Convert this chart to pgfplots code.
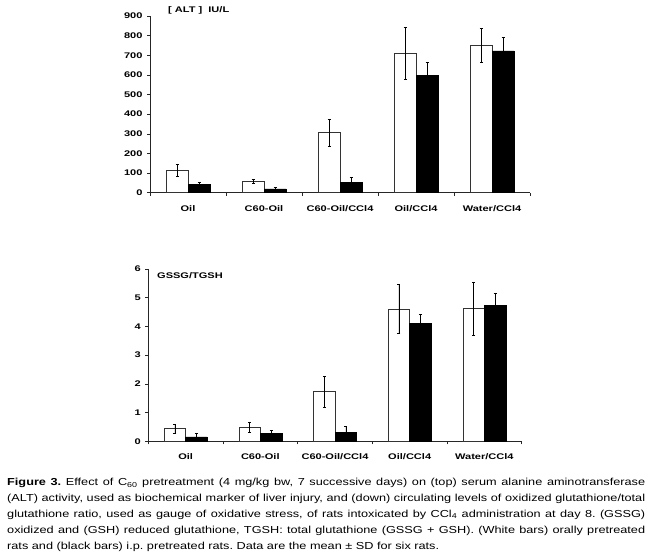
\documentclass[border=0pt]{standalone}
\usepackage{pgfplots}
\pgfplotsset{compat=1.18}
\usepackage{fontspec}
\setmainfont{Liberation Sans}
\newfontfamily\lab[FakeStretch=1.35]{Liberation Sans}
\newfontfamily\capfont[FakeStretch=1.25]{Liberation Sans}
\frenchspacing
\begin{document}
\begin{tikzpicture}
\useasboundingbox (0,0) rectangle (650bp,558bp);
\pgfplotsset{
  common/.style={
    scale only axis, ybar, ymin=0, xmin=-0.5, xmax=4.5,
    axis x line*=bottom, axis y line*=left,
    axis line style={-, line width=0.6bp, black!85},
    tick align=outside,
    xtick={0,1,2,3,4},
    xticklabels={Oil, C60-Oil, C60-Oil/CCl4, Oil/CCl4, Water/CCl4},
    major x tick style={draw=none},
    minor xtick={-0.5,0.5,1.5,2.5,3.5,4.5},
    minor tick length=3bp, major tick length=3bp,
    every tick/.style={black!85, line width=0.5bp},
    /pgf/number format/assume math mode=true,
    tick label style={font=\lab\bfseries\fontsize{8.2}{9}\selectfont, black},
    xticklabel style={yshift=-6bp},
    yticklabel style={xshift=-1bp},
  },
  errs/.style={
    error bars/y dir=both, error bars/y explicit,
    error bars/error bar style={line width=0.5bp, black},
    error bars/error mark options={rotate=90, mark size=1.5bp, line width=0.5bp, black}},
  wbar/.style={errs, fill=white, draw=black!80, line width=0.5bp, bar width=22bp, bar shift=-11bp},
  bbar/.style={errs, fill=black, draw=black, line width=0.5bp, bar width=22bp, bar shift=11bp},
}
% top chart
\begin{axis}[common, at={(150bp,365.3bp)}, anchor=south west,
  width=380bp, height=176.7bp, ymax=900, ytick={0,100,...,900}]
\addplot[wbar] coordinates {(0,115) +- (0,30) (1,58) +- (0,10) (2,307) +- (0,68) (3,710) +- (0,134) (4,750) +- (0,87)};
\addplot[bbar] coordinates {(0,44) +- (0,8) (1,19) +- (0,8) (2,54) +- (0,24) (3,598) +- (0,66) (4,722) +- (0,70)};
\end{axis}
% bottom chart
\begin{axis}[common, at={(148.3bp,116.7bp)}, anchor=south west,
  width=373.4bp, height=172.3bp, ymax=6, ytick={0,1,...,6}]
\addplot[wbar, bar width=21.5bp, bar shift=-10.75bp] coordinates {(0,0.44) +- (0,0.16) (1,0.49) +- (0,0.19) (2,1.73) +- (0,0.54) (3,4.61) +- (0,0.85) (4,4.63) +- (0,0.92)};
\addplot[bbar, bar width=21.5bp, bar shift=10.75bp] coordinates {(0,0.15) +- (0,0.13) (1,0.27) +- (0,0.10) (2,0.30) +- (0,0.21) (3,4.11) +- (0,0.32) (4,4.73) +- (0,0.44)};
\end{axis}
\node[anchor=west, inner sep=0pt, font=\lab\bfseries\fontsize{8.2}{9}\selectfont] at (168bp,548bp) {[ ALT ]\ \ IU/L};
\node[anchor=west, inner sep=0pt, font=\lab\bfseries\fontsize{8.2}{9}\selectfont] at (157bp,282bp) {GSSG/TGSH};
\node[anchor=north west, inner sep=0pt, text width=638bp, align=justify,
  font=\capfont\fontsize{10.2}{16}\selectfont] at (7bp,80bp) {%
\textbf{Figure 3.} Effect of C\textsubscript{60} pretreatment (4 mg/kg bw, 7 successive days) on (top) serum alanine aminotransferase\linebreak
(ALT) activity, used as biochemical marker of liver injury, and (down) circulating levels of oxidized glutathione/total\linebreak
glutathione ratio, used as gauge of oxidative stress, of rats intoxicated by CCl\textsubscript{4} administration at day 8. (GSSG)\linebreak
oxidized and (GSH) reduced glutathione, TGSH: total glutathione (GSSG + GSH). (White bars) orally pretreated\linebreak
rats and (black bars) i.p. pretreated rats. Data are the mean \textpm{} SD for six rats.\par};
\end{tikzpicture}
\end{document}
